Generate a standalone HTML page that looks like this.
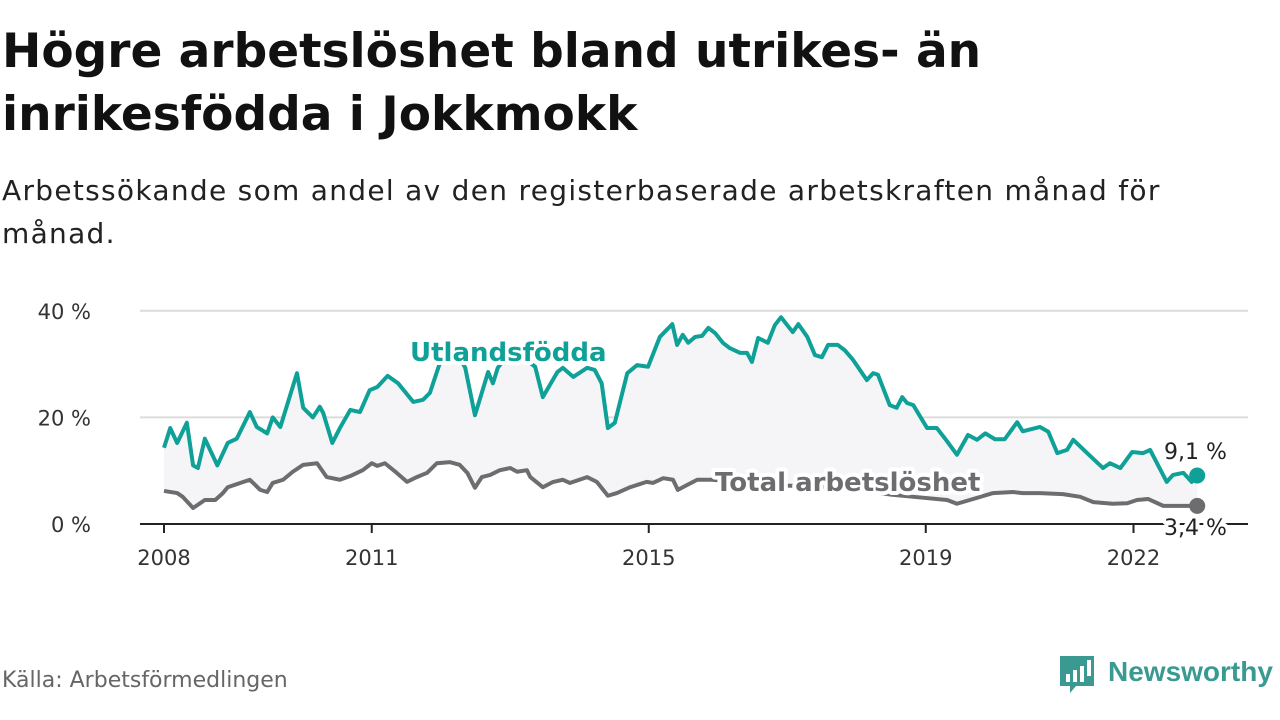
<!DOCTYPE html>
<html><head><meta charset="utf-8">
<style>
body{margin:0;width:1280px;height:720px;background:#fff;font-family:"DejaVu Sans","Liberation Sans",sans-serif;overflow:hidden;position:relative}
h1{position:absolute;left:2px;top:20px;margin:0;font-size:47px;line-height:63px;font-weight:bold;color:#111}
.sub{position:absolute;left:2px;top:169px;font-size:28px;line-height:43px;color:#222;letter-spacing:1.3px}
.src{position:absolute;left:2px;top:668px;font-size:22px;color:#666}
svg{position:absolute;left:0;top:0}
</style></head><body>
<h1>Högre arbetslöshet bland utrikes- än<br>inrikesfödda i Jokkmokk</h1>
<div class="sub">Arbetssökande som andel av den registerbaserade arbetskraften månad för<br>månad.</div>
<div class="src">Källa: Arbetsförmedlingen</div>
<svg width="1280" height="720" id="chart"></svg>
<script>
const foreignDates=[2008.0,2008.09,2008.19,2008.33,2008.42,2008.49,2008.59,2008.77,2008.92,2009.05,2009.24,2009.34,2009.49,2009.57,2009.68,2009.92,2010.01,2010.15,2010.25,2010.30,2010.43,2010.54,2010.69,2010.83,2010.97,2011.08,2011.23,2011.38,2011.60,2011.74,2011.84,2011.96,2012.04,2012.16,2012.26,2012.35,2012.49,2012.61,2012.68,2012.75,2012.82,2012.92,2013.07,2013.21,2013.36,2013.47,2013.68,2013.76,2013.91,2014.11,2014.22,2014.32,2014.41,2014.51,2014.69,2014.83,2014.99,2015.16,2015.34,2015.41,2015.49,2015.57,2015.67,2015.77,2015.86,2015.96,2016.07,2016.17,2016.32,2016.42,2016.49,2016.58,2016.72,2016.82,2016.91,2017.00,2017.08,2017.16,2017.29,2017.40,2017.50,2017.59,2017.73,2017.83,2017.95,2018.15,2018.24,2018.31,2018.48,2018.58,2018.66,2018.73,2018.82,2019.02,2019.16,2019.28,2019.45,2019.61,2019.74,2019.86,2020.00,2020.14,2020.32,2020.40,2020.65,2020.77,2020.90,2021.04,2021.13,2021.33,2021.56,2021.66,2021.81,2021.98,2022.14,2022.24,2022.48,2022.57,2022.72,2022.84,2022.92];
const foreignValues=[14.3,18,15.2,19,11,10.5,16,11,15.2,16,21,18.2,17,20,18.2,28.3,21.8,20,22,20.8,15.2,18,21.4,21,25.1,25.7,27.8,26.4,22.9,23.3,24.6,29.3,32,33,31.5,29.3,20.4,25.5,28.5,26.4,29.3,31,32,31,29.5,23.8,28.5,29.3,27.6,29.3,28.9,26.4,18,19,28.3,29.8,29.5,35.1,37.5,33.6,35.5,34,35.1,35.3,36.8,35.8,34,33,32.1,32.1,30.4,34.9,34,37.3,38.8,37.3,36,37.5,35.1,31.7,31.3,33.6,33.6,32.6,30.8,27,28.3,28,22.3,21.8,23.8,22.7,22.3,18,18,16,13,16.7,15.8,17,15.9,15.9,19.1,17.4,18.2,17.3,13.3,13.9,15.8,13.3,10.5,11.4,10.5,13.5,13.3,13.9,7.9,9.2,9.6,7.9,9.1];
const totalDates=[2008.0,2008.19,2008.27,2008.42,2008.59,2008.74,2008.85,2008.92,2009.10,2009.24,2009.39,2009.49,2009.57,2009.72,2009.86,2010.01,2010.21,2010.35,2010.54,2010.69,2010.87,2011.00,2011.08,2011.19,2011.36,2011.51,2011.65,2011.80,2011.94,2012.13,2012.27,2012.38,2012.49,2012.59,2012.71,2012.85,2013.00,2013.10,2013.24,2013.29,2013.47,2013.62,2013.76,2013.86,2014.11,2014.25,2014.41,2014.54,2014.73,2014.97,2015.06,2015.21,2015.35,2015.42,2015.55,2015.70,2015.91,2016.2,2016.6,2017.0,2017.5,2018.0,2018.5,2018.82,2019.31,2019.45,2019.74,2019.97,2020.26,2020.40,2020.65,2020.98,2021.23,2021.42,2021.70,2021.91,2022.05,2022.21,2022.43,2022.68,2022.92];
const totalValues=[6.2,5.8,5.1,3,4.5,4.5,5.8,6.9,7.7,8.3,6.4,6,7.7,8.3,9.8,11.1,11.4,8.8,8.3,9,10.1,11.4,10.9,11.4,9.6,7.9,8.8,9.6,11.4,11.6,11.1,9.6,6.8,8.8,9.2,10.1,10.5,9.8,10.1,8.8,6.9,7.9,8.3,7.7,8.8,7.9,5.3,5.8,6.9,7.9,7.7,8.6,8.3,6.4,7.3,8.3,8.3,8,7.5,7.2,7,6.5,5.5,5.1,4.5,3.8,4.9,5.8,6,5.8,5.8,5.6,5.1,4.1,3.8,3.9,4.5,4.7,3.4,3.4,3.4];
const yTicks=[0,20,40];
const xTickYears=[2008,2011,2015,2019,2022];

const NS='http://www.w3.org/2000/svg';
const svg=document.getElementById('chart');
const X=t=>164+(t-2008)*69.25;
const Y=v=>524-v*5.33;
function mk(tag,attrs,parent){const e=document.createElementNS(NS,tag);for(const k in attrs)e.setAttribute(k,attrs[k]);(parent||svg).appendChild(e);return e;}

yTicks.forEach(v=>{
  if(v>0){const g=mk('line',{x1:140,x2:1248,y1:Y(v),y2:Y(v),stroke:'#dcdcdc','stroke-width':2});
  
  }
  const t=mk('text',{x:91,y:Y(v)+8,'text-anchor':'end','font-size':21,fill:'#333'});
  t.textContent=v+' %';
  
  
});
let pts=foreignDates.map((d,i)=>X(d)+','+Y(foreignValues[i]));
let back=totalDates.map((d,i)=>X(d)+','+Y(totalValues[i])).reverse();
const area=mk('polygon',{points:pts.concat(back).join(' '),fill:'#f5f5f7'});


const axis=mk('line',{x1:140,x2:1248,y1:524,y2:524,stroke:'#222','stroke-width':2});


xTickYears.forEach(y=>{
  const tk=mk('line',{x1:X(y),x2:X(y),y1:524,y2:533,stroke:'#222','stroke-width':2});
  
  
  const t=mk('text',{x:X(y),y:565,'text-anchor':'middle','font-size':21,fill:'#333'});
  t.textContent=y;
  
  
});
const lt=mk('polyline',{points:totalDates.map((d,i)=>X(d)+','+Y(totalValues[i])).join(' '),fill:'none',stroke:'#6d6d70','stroke-width':4,'stroke-linejoin':'round'});


const lf=mk('polyline',{points:pts.join(' '),fill:'none',stroke:'#0fa197','stroke-width':4,'stroke-linejoin':'round'});


const nF=foreignDates.length-1,nT=totalDates.length-1;
const d1=mk('circle',{cx:X(foreignDates[nF]),cy:Y(foreignValues[nF]),r:8,fill:'#0fa197'});


const d2=mk('circle',{cx:X(totalDates[nT]),cy:Y(totalValues[nT]),r:8,fill:'#6d6d70'});


function label(txt,x,y,size,fill,weight,name){
  const t=mk('text',{x:x,y:y,'font-size':size,fill:fill,'font-weight':weight,stroke:'#fff','stroke-width':8,'paint-order':'stroke','stroke-linejoin':'round'});
  t.textContent=txt;
  
  
}
label('Utlandsfödda',410,361,26,'#0fa197','bold','foreign-born-label');
label('Total arbetslöshet',715,491,26,'#6d6d70','bold','total-label');
label('9,1 %',1164,459,22,'#222','normal','foreign-born-value');
label('3,4 %',1164,535,22,'#222','normal','total-value');
const lg=mk('g',{});


mk('path',{d:'M1060 656h34v30h-18l-6 7v-7h-10z',fill:'#3a9a92'},lg);
mk('rect',{x:1066,y:674,width:4,height:8,fill:'#fff'},lg);
mk('rect',{x:1073,y:670,width:4,height:12,fill:'#fff'},lg);
mk('rect',{x:1080,y:666,width:4,height:16,fill:'#fff'},lg);
mk('rect',{x:1087,y:660,width:4,height:16,fill:'#fff'},lg);
const lt2=mk('text',{x:1108,y:681,'font-size':28,fill:'#3a9a92','font-weight':'bold','font-family':'Liberation Sans, sans-serif'},lg);
lt2.textContent='Newsworthy';
</script>
</body></html>
